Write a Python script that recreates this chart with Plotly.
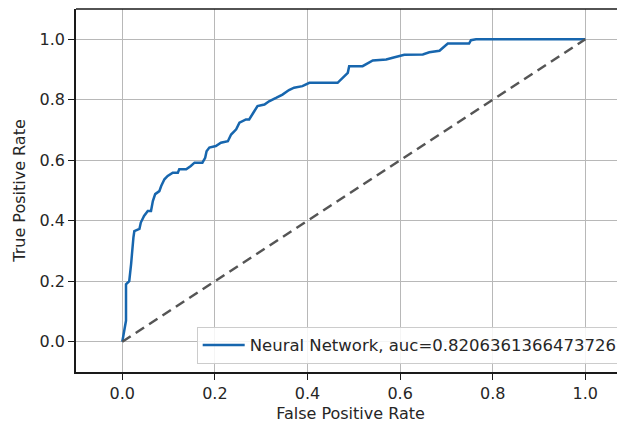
import plotly.graph_objects as go

fpr = [0.0, 0.004, 0.008, 0.008, 0.015, 0.019, 0.021, 0.024, 0.026, 0.037, 0.040, 0.047, 0.055, 0.062,
       0.066, 0.071, 0.080, 0.084, 0.091, 0.098, 0.109, 0.120, 0.123, 0.138, 0.148, 0.156, 0.173, 0.179,
       0.182, 0.188, 0.202, 0.213, 0.228, 0.235, 0.246, 0.253, 0.267, 0.274, 0.285, 0.292, 0.307, 0.317,
       0.332, 0.346, 0.360, 0.371, 0.389, 0.404, 0.465, 0.476, 0.487, 0.490, 0.519, 0.541, 0.570, 0.584,
       0.609, 0.649, 0.663, 0.685, 0.695, 0.703, 0.749, 0.753, 0.764, 1.0]
tpr = [0.0, 0.036, 0.07, 0.19, 0.20, 0.257, 0.30, 0.344, 0.366, 0.373, 0.394, 0.416, 0.432, 0.432,
       0.465, 0.488, 0.498, 0.515, 0.537, 0.548, 0.559, 0.559, 0.57, 0.57, 0.581, 0.592, 0.592, 0.608,
       0.63, 0.642, 0.647, 0.658, 0.663, 0.685, 0.702, 0.724, 0.735, 0.735, 0.762, 0.779, 0.784, 0.795,
       0.806, 0.817, 0.832, 0.84, 0.845, 0.856, 0.856, 0.872, 0.889, 0.911, 0.911, 0.93, 0.933, 0.939,
       0.949, 0.95, 0.957, 0.962, 0.977, 0.986, 0.986, 0.997, 1.0, 1.0]
chance_x = [0.0, 1.0]
chance_y = [0.0, 1.0]
tick_vals = [0.0, 0.2, 0.4, 0.6, 0.8, 1.0]
model_label = "Neural Network, auc=0.8206361366473726"

FONT = dict(family="DejaVu Sans", size=16, color="#262626")
LEGEND_FONT = dict(family="DejaVu Sans", size=16.5, color="#262626")

fig = go.Figure()
fig.add_trace(go.Scatter(x=fpr, y=tpr, mode="lines", name=model_label,
                         line=dict(color="#1766ae", width=2.5)))
fig.add_trace(go.Scatter(x=chance_x, y=chance_y, mode="lines", showlegend=False,
                         line=dict(color="#555555", width=2.5, dash="10px,6px")))

axis_common = dict(showgrid=True, gridcolor="#b8b8b8", gridwidth=1.3, zeroline=False,
                   showline=True, linecolor="#1a1a1a", linewidth=1.5, automargin=False,
                   ticks="outside", ticklen=6, tickcolor="#1a1a1a", tickwidth=1.3,
                   tickvals=tick_vals, tickformat=".1f", tickfont=FONT)

# page body has an 8px margin, so the figure is sized/offset to compensate
fig.update_layout(
    width=617, height=418,
    margin=dict(l=68, r=0, t=1, b=54),
    paper_bgcolor="white", plot_bgcolor="white",
    font=FONT,
    xaxis=dict(range=[-0.1, 1.0857], title=dict(text="False Positive Rate", font=FONT, standoff=6),
               **axis_common),
    yaxis=dict(range=[-0.1, 1.1], title=dict(text="True Positive Rate", font=FONT, standoff=10),
               **axis_common),
    legend=dict(x=0.9958, y=0.023, xanchor="right", yanchor="bottom", itemwidth=42,
                bgcolor="rgba(255,255,255,0.85)", bordercolor="#cccccc", borderwidth=1,
                font=LEGEND_FONT),
    shapes=[dict(type="line", xref="paper", yref="paper", x0=0, x1=1, y0=1, y1=1,
                 line=dict(color="#1a1a1a", width=1.5))],
)

fig.write_html("out.html")
